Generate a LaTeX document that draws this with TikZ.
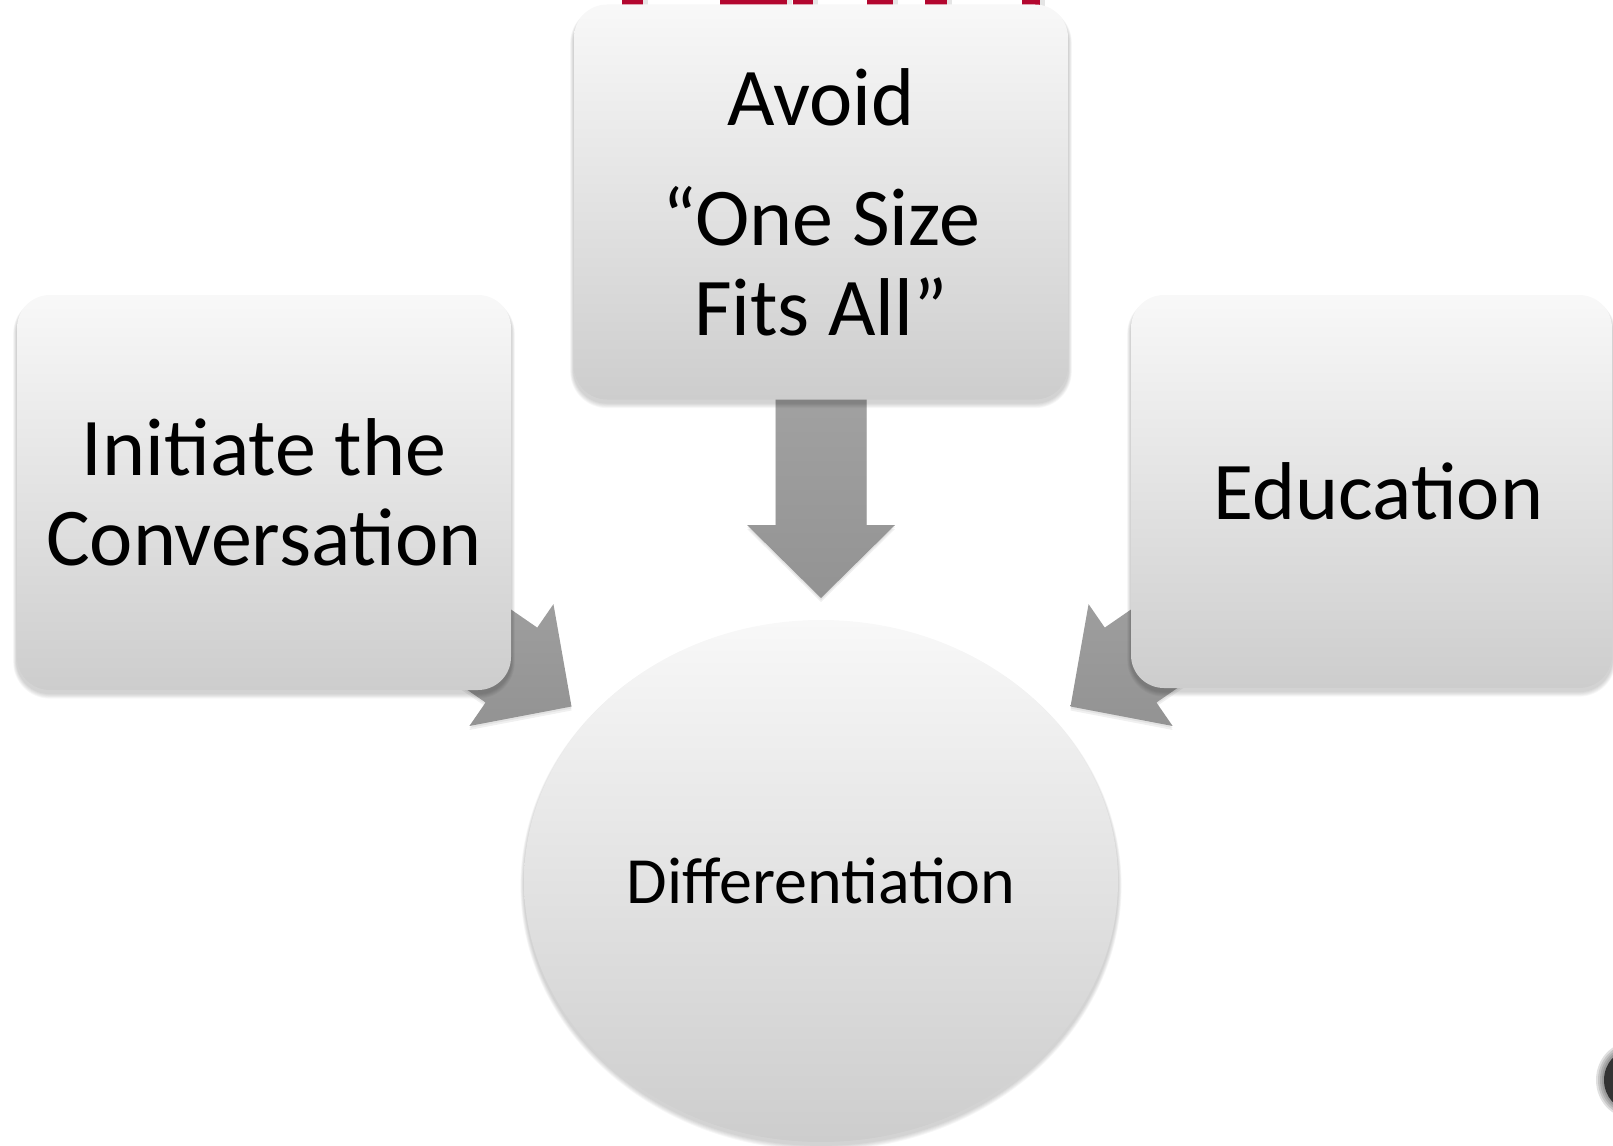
\documentclass[tikz,border=0pt]{standalone}
\usepackage{fontspec}
\setmainfont{Carlito}
\usetikzlibrary{calc,shapes.geometric}
\pgfdeclarelayer{arrowlayer}
\pgfdeclarelayer{shadowlayer}
\pgfsetlayers{arrowlayer,shadowlayer,main}
\definecolor{redtitle}{HTML}{B3072F}
\definecolor{boxtop}{HTML}{F8F8F8}
\definecolor{boxmid}{HTML}{E8E8E8}
\definecolor{boxbot}{HTML}{CDCDCD}
\definecolor{arrowlight}{HTML}{A5A5A5}
\definecolor{arrowdark}{HTML}{939393}
\tikzset{
  box/.style={rounded corners=33pt, top color=boxtop, middle color=boxmid, bottom color=boxbot,
    inner sep=0pt, align=center, font=\fontsize{82}{90}\selectfont, text=black},
  hub/.style={ellipse, top color=boxtop, middle color=boxmid, bottom color=boxbot, inner sep=0pt,
    minimum width=594pt, minimum height=522pt, font=\fontsize{66}{72}\selectfont, text=black},
  arrowbody/.style={top color=arrowlight, bottom color=arrowdark},
  blockarrow/.pic={
    \path[arrowbody] (0,0) -- (-73,-74) -- (-73,-45.5) -- (-260,-45.5)
      -- (-260,45.5) -- (-73,45.5) -- (-73,74) -- cycle;},
  arrowshadow/.pic={
    \fill[black,opacity=0.06] (0,0) -- (-73,-74) -- (-73,-45.5) -- (-260,-45.5)
      -- (-260,45.5) -- (-73,45.5) -- (-73,74) -- cycle;},
}
\begin{document}
\begin{tikzpicture}[x=1pt,y=-1pt]
\useasboundingbox (0,0) rectangle (1613,1145);
% nodes
\node[box, minimum width=494pt, minimum height=395pt] (T) at (821,202)
  {Avoid\\[30pt]\textquotedblleft One Size\\Fits All\textquotedblright};
\node[box, minimum width=494pt, minimum height=395pt] (L) at (264,492.5)
  {Initiate the\\Conversation};
\node[box, minimum width=481pt, minimum height=393pt] (R) at (1371.5,491.5)
  {\hspace*{14pt}Education};
\node[hub] (C) at (821,881) {Differentiation};
% arrow tips
\coordinate (tipT) at (821,598);
\coordinate (tipL) at (571.5,706.5);
\coordinate (tipR) at (1070.5,706.5);
\begin{pgfonlayer}{arrowlayer}
  % red fragments of a title behind
  \foreach \a/\b in {622/643,720/787,793/813,867/893,925/947,1022/1040}{
    \fill[black,opacity=0.10] (\a+3,0) rectangle (\b+5,10);
    \fill[redtitle] (\a,0) rectangle (\b,10);
  }
  % dark blob at right edge
  \foreach \k in {8,6,4,2}{
    \fill[black,opacity=0.12] (1631,1080) ellipse ({27+\k} and {30+\k});
  }
  \fill[black!80] (1631,1080) ellipse (27 and 30);
  \foreach \s in {2,4}{
    \pic[rotate=-90] at ($(tipT)+(0,\s)$) {arrowshadow};
    \pic[rotate=-34.6] at ($(tipL)+(0,\s)$) {arrowshadow};
    \pic[rotate=-145.4] at ($(tipR)+(0,\s)$) {arrowshadow};
  }
  \pic[rotate=-90] at (tipT) {blockarrow};
  \pic[rotate=-34.6] at (tipL) {blockarrow};
  \pic[rotate=-145.4] at (tipR) {blockarrow};
\end{pgfonlayer}
\begin{pgfonlayer}{shadowlayer}
  \foreach \n in {T,L,R}{
    \foreach \i in {1,...,6}{
      \pgfmathsetmacro\rr{33+\i*0.6}
      \fill[black,opacity=0.03,rounded corners=\rr pt]
        ($(\n.north west)+(-\i*0.6,-\i*0.3+4)$) rectangle ($(\n.south east)+(\i*0.6,\i*0.9+3)$);
    }
  }
  \foreach \i in {1,...,6}{
    \fill[black,opacity=0.03] ($(C.center)+(0,3+\i*0.3)$) ellipse ({297+\i*0.6} and {261+\i*0.6});
  }
\end{pgfonlayer}
\end{tikzpicture}
\end{document}
